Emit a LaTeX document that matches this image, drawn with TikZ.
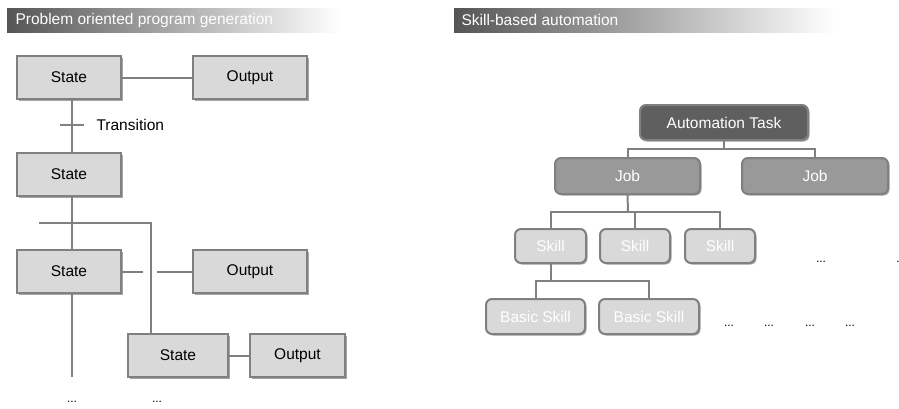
\documentclass[tikz,border=0pt]{standalone}
\usepackage{fontspec}
\setmainfont{Liberation Sans}
\usetikzlibrary{shadows}
\definecolor{lnc}{HTML}{808080}
\definecolor{boxfill}{HTML}{D9D9D9}
\definecolor{jobfill}{HTML}{999999}
\definecolor{taskfill}{HTML}{5F5F5F}
\definecolor{hdrdark}{HTML}{555555}
\definecolor{hdrmid}{HTML}{A0A0A0}
\tikzset{
  myshadow/.style={drop shadow={shadow xshift=1.5pt,shadow yshift=-1.5pt,opacity=0.35,fill=black}},
  sq/.style={draw=lnc,line width=2pt,fill=boxfill,minimum height=43pt,inner sep=0pt,font=\fontsize{15.5}{17}\selectfont,text=black,myshadow},
  rbox/.style={draw=lnc,line width=2pt,rounded corners=6pt,inner sep=0pt,font=\fontsize{15.5}{17}\selectfont,text=white,myshadow},
  conn/.style={draw=lnc,line width=2pt},
  hdr/.style={anchor=west,font=\fontsize{15.5}{17}\selectfont,text=white},
  dots/.style={font=\fontsize{12}{14}\selectfont,text=black},
}
\begin{document}
\begin{tikzpicture}[x=1pt,y=-1pt]
\useasboundingbox (0,0) rectangle (899,408);
% headers
\shade[left color=hdrdark,middle color=hdrmid,right color=white,shading=axis] (7,8) rectangle (340,32);
\node[hdr] (h1) at (12,20) {Problem oriented program generation};
\shade[left color=hdrdark,middle color=hdrmid,right color=white,shading=axis] (454,8) rectangle (835,32);
\node[hdr] (h2) at (458,20) {Skill-based automation};
% left side
\node[sq,minimum width=104pt] (s1) at (69,77.5) {State};
\node[sq,minimum width=114pt] (o1) at (250,77.5) {Output};
\node[sq,minimum width=104pt] (s2) at (69,174.5) {State};
\node[sq,minimum width=104pt] (s3) at (69,271.5) {State};
\node[sq,minimum width=114pt] (o2) at (250,271.5) {Output};
\node[sq,minimum width=100pt] (s4) at (178,355.5) {State};
\node[sq,minimum width=95pt] (o3) at (297.5,355.5) {Output};
\draw[conn] (s1) -- (o1);
\draw[conn] (s1.south -| 72,0) coordinate (a1) -- (s2.north -| 72,0);
\coordinate (t1) at (60,125);
\coordinate (t2) at (84,125);
\draw[conn] (t1) -- (t2);
\node[anchor=west,font=\fontsize{15.5}{17}\selectfont] (tr) at (93,125) {Transition};
\coordinate (b1) at (39,223);
\coordinate (b2) at (151,223);
\draw[conn] (s2.south -| 72,0) -- (s3.north -| 72,0);
\draw[conn] (b1) -- (b2) -- (s4.north -| b2);
\coordinate (g1) at (143,271.5);
\coordinate (g2) at (157,271.5);
\draw[conn] (s3.east) -- (g1);
\draw[conn] (g2) -- (o2.west);
\coordinate (e1) at (72,377);
\draw[conn] (s3.south -| e1) -- (e1);
\draw[conn] (s4) -- (o3);
\node[dots] (d1) at (72,402) {...};
\node[dots] (d2) at (157,402) {...};
% right side
\node[rbox,fill=taskfill,minimum width=168pt,minimum height=35pt] (task) at (724,122.5) {Automation Task};
\node[rbox,fill=jobfill,minimum width=145pt,minimum height=36pt] (j1) at (627.5,176) {Job};
\node[rbox,fill=jobfill,minimum width=146pt,minimum height=36pt] (j2) at (815,176) {Job};
\node[rbox,fill=boxfill,minimum width=71pt,minimum height=34pt] (k1) at (550.5,246) {Skill};
\node[rbox,fill=boxfill,minimum width=70pt,minimum height=34pt] (k2) at (635,246) {Skill};
\node[rbox,fill=boxfill,minimum width=70pt,minimum height=34pt] (k3) at (720,246) {Skill};
\node[rbox,fill=boxfill,minimum width=99pt,minimum height=35pt] (b1s) at (535.5,316.5) {Basic Skill};
\node[rbox,fill=boxfill,minimum width=100pt,minimum height=35pt] (b2s) at (649,316.5) {Basic Skill};
\coordinate (m1) at (724,149);
\draw[conn] (task.south) -- (m1);
\draw[conn] (j1.north) |- (m1) -| (j2.north);
\coordinate (m2) at (628,212);
\draw[conn] (j1.south) -- (m2);
\draw[conn] (k1.north) |- (m2) -| (k3.north);
\draw[conn] (k2.north) -- (k2.north |- m2);
\coordinate (m3) at (550.5,281);
\draw[conn] (k1.south) -- (m3);
\draw[conn] (b1s.north) |- (m3) -| (b2s.north);
\node[dots] (d3) at (821,262) {...};
\node[dots] (d4) at (898,262) {.};
\node[dots] (d5) at (729,326) {...};
\node[dots] (d6) at (769,326) {...};
\node[dots] (d7) at (810,326) {...};
\node[dots] (d8) at (850,326) {...};
\end{tikzpicture}
\end{document}
